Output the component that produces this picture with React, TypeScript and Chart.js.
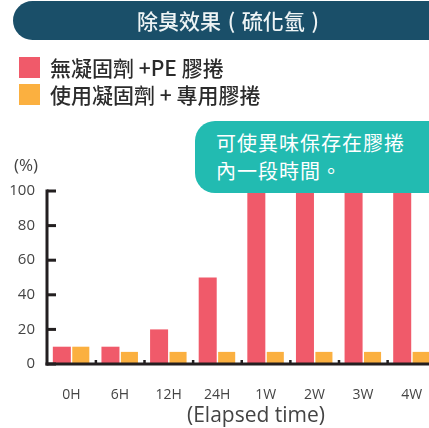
import React, { useEffect, useRef } from "react";
import { Chart, registerables } from "chart.js";

Chart.register(...registerables);

const categories = ["0H", "6H", "12H", "24H", "1W", "2W", "3W", "4W"];
const seriesNoAgent = [10, 10, 20, 50, 100, 100, 100, 100];
const seriesWithAgent = [10, 7, 7, 7, 7, 7, 7, 7];
const seriesLabels = ["無凝固劑 +PE 膠捲", "使用凝固劑 + 專用膠捲"];
const seriesColors = ["#f05a6a", "#fbb040"];
const yTicks = [0, 20, 40, 60, 80, 100];
const titleText = "除臭效果 ( 硫化氫 )";
const calloutLines = ["可使異味保存在膠捲", "內一段時間。"];
const yUnit = "(%)";
const xTitle = "(Elapsed time)";

const LATIN = "'Open Sans', 'Noto Sans CJK TC', sans-serif";
const CJK = "'Noto Sans CJK TC', 'Open Sans', sans-serif";

export default function App() {
  const ref = useRef<HTMLCanvasElement | null>(null);

  useEffect(() => {
    if (!ref.current) return;
    const axisPlugin = {
      id: "axisPlugin",
      afterDraw(chart: any) {
        const ctx = chart.ctx;
        const ys = chart.scales.y;
        const xs = chart.scales.x;
        const x0 = chart.chartArea.left;
        const yBottom = ys.getPixelForValue(0);
        const yTop = ys.getPixelForValue(100);
        ctx.save();
        ctx.fillStyle = "#231f20";
        ctx.fillRect(x0 - 1.5, yTop - 1.5, 3, yBottom - yTop + 3);
        ctx.fillRect(x0 - 1.5, yBottom - 1.5, chart.width, 3);
        yTicks.forEach((v) => {
          const p = ys.getPixelForValue(v);
          ctx.fillRect(x0, p - 1.5, 9, 3);
        });
        for (let i = 1; i < categories.length; i++) {
          const a = xs.getPixelForValue(i - 1);
          const b = xs.getPixelForValue(i);
          const m = (a + b) / 2;
          ctx.fillRect(m - 1, yBottom - 4, 2.5, 3);
        }
        ctx.restore();
      },
    };

    const chart = new Chart(ref.current, {
      type: "bar",
      data: {
        labels: categories,
        datasets: [
          {
            label: seriesLabels[0],
            data: seriesNoAgent,
            backgroundColor: seriesColors[0],
            barPercentage: 0.95,
            categoryPercentage: 0.78,
          },
          {
            label: seriesLabels[1],
            data: seriesWithAgent,
            backgroundColor: seriesColors[1],
            barPercentage: 0.9,
            categoryPercentage: 0.78,
          },
        ],
      },
      options: {
        animation: false,
        responsive: false,
        devicePixelRatio: 1,
        layout: { padding: { top: 191, right: 4, left: 0, bottom: 0 } },
        plugins: {
          legend: { display: false },
          tooltip: { enabled: false },
        },
        scales: {
          x: {
            type: "category",
            offset: true,
            grid: { display: false },
            border: { display: false },
            ticks: {
              color: "#444",
              font: { family: LATIN, size: 14 },
              padding: 15,
              maxRotation: 0,
            },
            afterFit: (s: any) => {
              s.height = 64;
            },
          },
          y: {
            min: 0,
            max: 100,
            grid: { display: false },
            border: { display: false },
            ticks: {
              stepSize: 20,
              color: "#444",
              font: { family: LATIN, size: 15 },
              padding: 4,
            },
            afterFit: (s: any) => {
              s.width = 47;
            },
          },
        },
      },
      plugins: [axisPlugin],
    });
    return () => chart.destroy();
  }, []);

  return (
    <div
      style={{
        position: "fixed",
        left: 0,
        top: 0,
        width: 429,
        height: 428,
        overflow: "hidden",
        background: "#fff",
      }}
    >
      <canvas
        ref={ref}
        width={440}
        height={428}
        style={{ position: "absolute", left: 0, top: 0, width: 440, height: 428 }}
      />
      <div
        style={{
          position: "absolute",
          left: 13,
          top: 1,
          width: 460,
          height: 39,
          borderRadius: 20,
          background: "#1a4f69",
        }}
      />
      <div
        style={{
          position: "absolute",
          left: 100,
          width: 256,
          top: 1,
          height: 39,
          lineHeight: "39px",
          textAlign: "center",
          color: "#eef4f5",
          fontFamily: CJK,
          fontSize: 21,
          fontWeight: 500,
          wordSpacing: 2,
          whiteSpace: "nowrap",
        }}
      >
        {titleText}
      </div>
      {seriesLabels.map((lab, i) => (
        <div key={i}>
          <div
            style={{
              position: "absolute",
              left: 19,
              top: 57 + i * 27,
              width: 21,
              height: 21,
              background: seriesColors[i],
            }}
          />
          <div
            style={{
              position: "absolute",
              left: 50,
              top: 54 + i * 27,
              height: 26,
              lineHeight: "26px",
              color: "#2b2b2b",
              fontFamily: CJK,
              fontSize: 21,
              fontWeight: 500,
              whiteSpace: "nowrap",
            }}
          >
            {lab}
          </div>
        </div>
      ))}
      <div
        style={{
          position: "absolute",
          left: 195,
          top: 121,
          width: 260,
          height: 72,
          borderRadius: 20,
          background: "#22bbb1",
        }}
      />
      <div
        style={{
          position: "absolute",
          left: 216,
          top: 129,
          color: "#fff",
          fontFamily: CJK,
          fontSize: 20,
          lineHeight: "28px",
          letterSpacing: 1,
          whiteSpace: "nowrap",
        }}
      >
        {calloutLines.map((l, i) => (
          <div key={i}>{l}</div>
        ))}
      </div>
      <div
        style={{
          position: "absolute",
          left: 14,
          top: 154,
          color: "#444",
          fontFamily: LATIN,
          fontSize: 17,
          lineHeight: "22px",
        }}
      >
        {yUnit}
      </div>
      <div
        style={{
          position: "absolute",
          left: 156,
          width: 200,
          top: 399,
          textAlign: "center",
          color: "#444",
          fontFamily: LATIN,
          fontSize: 21,
          lineHeight: "30px",
          whiteSpace: "nowrap",
        }}
      >
        {xTitle}
      </div>
    </div>
  );
}
